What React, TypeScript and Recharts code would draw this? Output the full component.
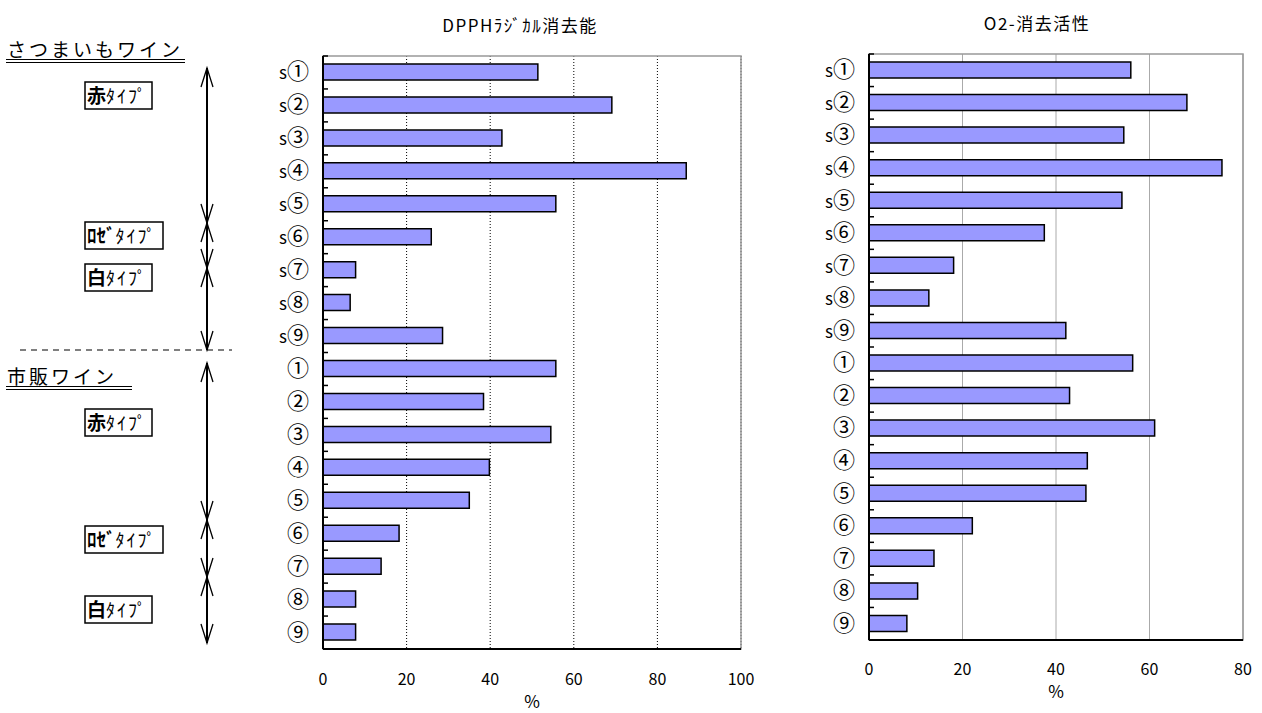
import React from 'react';
import { BarChart, Bar, XAxis, YAxis, CartesianGrid, ReferenceArea } from 'recharts';

const wines = [
  's①', 's②', 's③', 's④', 's⑤', 's⑥', 's⑦', 's⑧', 's⑨',
  '①', '②', '③', '④', '⑤', '⑥', '⑦', '⑧', '⑨',
];
const dpphValues = [51.4, 69.1, 42.8, 86.9, 55.7, 25.9, 7.8, 6.5, 28.6, 55.7, 38.4, 54.5, 39.8, 35.0, 18.2, 13.9, 7.8, 7.8];
const o2Values = [56.0, 68.0, 54.5, 75.5, 54.1, 37.5, 18.1, 12.8, 42.1, 56.4, 42.9, 61.1, 46.7, 46.4, 22.1, 13.9, 10.4, 8.1];
const dpphTicks = [0, 20, 40, 60, 80, 100];
const o2Ticks = [0, 20, 40, 60, 80];

const FONT = '"Noto Sans CJK JP", "Noto Sans", sans-serif';
const LABEL_GAP = 14;

const dpphData = wines.map((name, i) => ({ name, value: dpphValues[i] }));
const o2Data = wines.map((name, i) => ({ name, value: o2Values[i] }));

// category label: small "s" plus a large circled digit, and the little
// inward tick that Excel puts on the band boundary above each category
const WineTick = (props: any) => {
  const { x, y, payload } = props;
  const label: string = payload.value;
  const prefix = label.startsWith('s') ? 's' : '';
  const digit = prefix ? label.slice(1) : label;
  const half = payload.offset || 16;
  const axisX = x + LABEL_GAP;
  return (
    <g>
      <line x1={axisX} x2={axisX + 5} y1={y - half} y2={y - half} stroke="#000" strokeWidth={1.5} />
      <text x={x} y={y} dy={7} textAnchor="end" fill="#000" fontFamily={FONT}>
        {prefix && <tspan fontSize={17}>{prefix}</tspan>}
        <tspan fontSize={22}>{digit}</tspan>
      </text>
    </g>
  );
};

type PanelProps = {
  data: { name: string; value: number }[];
  ticks: number[];
  width: number;
  top: number;
  yWidth: number;
  xHeight: number;
  tickMargin: number;
  labelOffset: number;
  grid: { stroke: string; dash?: string };
};

const Panel = ({ data, ticks, width, top, yWidth, xHeight, tickMargin, labelOffset, grid }: PanelProps) => {
  const max = ticks[ticks.length - 1];
  return (
    <BarChart
      width={width}
      height={713}
      data={data}
      layout="vertical"
      margin={{ top, right: 19, left: 0, bottom: 0 }}
      style={{ fontFamily: FONT }}
    >
      <CartesianGrid horizontal={false} stroke={grid.stroke} strokeDasharray={grid.dash} />
      <ReferenceArea x1={0} x2={max} stroke="#999" strokeWidth={1.5} fill="none" fillOpacity={0} />
      <XAxis
        type="number"
        domain={[0, max]}
        ticks={ticks}
        height={xHeight}
        tickLine={false}
        tickSize={0}
        tickMargin={tickMargin}
        axisLine={{ stroke: '#000', strokeWidth: 2 }}
        tick={{ fill: '#000', fontSize: 16 }}
        label={{ value: '%', position: 'insideBottom', offset: labelOffset, fill: '#000', fontSize: 17 }}
      />
      <YAxis
        type="category"
        dataKey="name"
        width={yWidth}
        tickLine={false}
        tickSize={0}
        tickMargin={LABEL_GAP}
        axisLine={{ stroke: '#000', strokeWidth: 2 }}
        tick={<WineTick />}
        interval={0}
      />
      <Bar dataKey="value" fill="#9999ff" stroke="#000" strokeWidth={1.5} barSize={16} isAnimationActive={false} />
    </BarChart>
  );
};

const Arrow = ({ x, y1, y2 }: { x: number; y1: number; y2: number }) => (
  <g stroke="#000" fill="none" strokeWidth={1.3}>
    <line x1={x} y1={y1} x2={x} y2={y2} strokeWidth={2} />
    <polyline points={`${x - 6},${y1 + 19} ${x},${y1} ${x + 6},${y1 + 19}`} />
    <polyline points={`${x - 6},${y2 - 19} ${x},${y2} ${x + 6},${y2 - 19}`} />
  </g>
);

const Tag = ({ y, bold, w }: { y: number; bold: string; w: number }) => (
  <g>
    <rect x={85} y={y} width={w} height={27} fill="#fff" stroke="#000" strokeWidth={1.5} />
    <text x={87} y={y + 21} fontSize={18} fill="#000">
      <tspan fontWeight="bold" fontSize={19}>{bold}</tspan>
      <tspan letterSpacing={2}>ﾀｲﾌﾟ</tspan>
    </text>
  </g>
);

const Heading = ({ y, text, w }: { y: number; text: string; w: number }) => (
  <g>
    <text x={7} y={y} fontSize={19} letterSpacing={3} fill="#000">{text}</text>
    <line x1={6} y1={y + 2.5} x2={6 + w} y2={y + 2.5} stroke="#000" strokeWidth={1.2} />
    <line x1={6} y1={y + 5.5} x2={6 + w} y2={y + 5.5} stroke="#000" strokeWidth={1.2} />
  </g>
);

export default function App() {
  return (
    <div style={{ position: 'absolute', left: 0, top: 0, width: 1262, height: 713, background: '#fff', fontFamily: FONT }}>
      <div style={{ position: 'absolute', left: 420, top: 12, width: 200, textAlign: 'center', fontSize: 17, letterSpacing: 1.5 }}>
        DPPHﾗｼﾞｶﾙ消去能
      </div>
      <div style={{ position: 'absolute', left: 937, top: 10, width: 200, textAlign: 'center', fontSize: 17, letterSpacing: 1.5 }}>
        O2-消去活性
      </div>
      <div style={{ position: 'absolute', left: 240, top: 0 }}>
        <Panel data={dpphData} ticks={dpphTicks} width={520} top={56} yWidth={83} xHeight={64} tickMargin={25} labelOffset={5}
          grid={{ stroke: '#000', dash: '1 2' }} />
      </div>
      <div style={{ position: 'absolute', left: 780, top: 0 }}>
        <Panel data={o2Data} ticks={o2Ticks} width={482} top={54} yWidth={89} xHeight={73} tickMargin={24} labelOffset={15}
          grid={{ stroke: '#aaa' }} />
      </div>
      <svg width={1262} height={713} style={{ position: 'absolute', left: 0, top: 0, pointerEvents: 'none' }}
        fontFamily={FONT}>
        <Heading y={57} text="さつまいもワイン" w={179} />
        <Heading y={384} text="市販ワイン" w={126} />
        <line x1={20} y1={350} x2={232} y2={350} stroke="#000" strokeWidth={1.2} strokeDasharray="6 5" />
        <Arrow x={207} y1={68} y2={223} />
        <Arrow x={207} y1={223} y2={268} />
        <Arrow x={207} y1={268} y2={350} />
        <Arrow x={207} y1={363} y2={520} />
        <Arrow x={207} y1={520} y2={577} />
        <Arrow x={207} y1={577} y2={643} />
        <Tag y={82} bold="赤" w={67} />
        <Tag y={222} bold="ﾛｾﾞ" w={78} />
        <Tag y={264} bold="白" w={67} />
        <Tag y={409} bold="赤" w={67} />
        <Tag y={526} bold="ﾛｾﾞ" w={78} />
        <Tag y={596} bold="白" w={67} />
      </svg>
    </div>
  );
}
